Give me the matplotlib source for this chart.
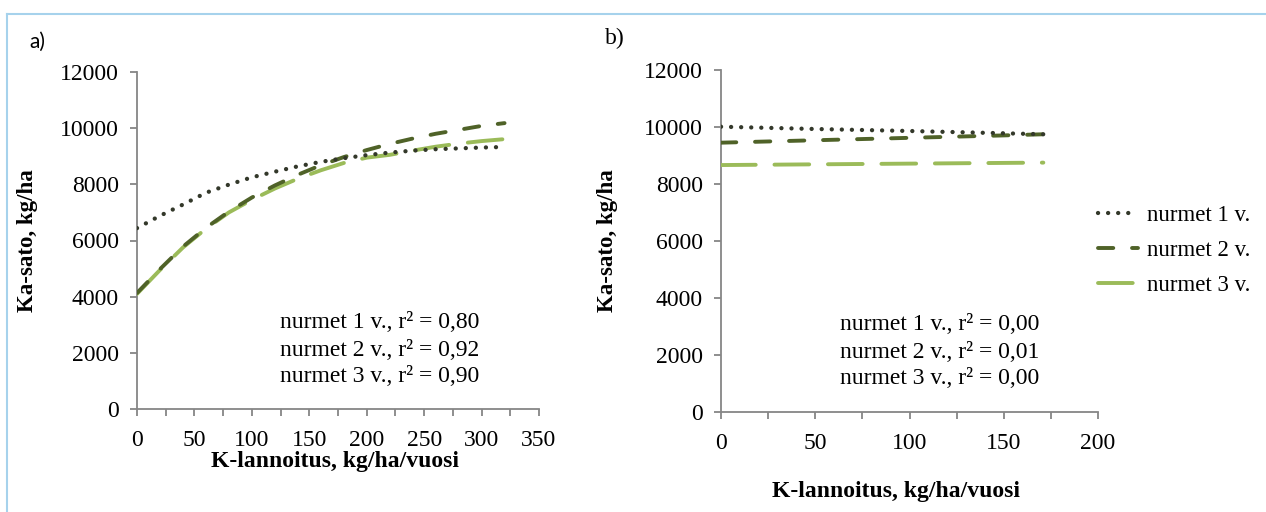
import matplotlib
matplotlib.use("Agg")
import matplotlib.pyplot as plt
from matplotlib.lines import Line2D

# Ka-sato vs K-lannoitus, trend lines read per year of ley
x_a = [0, 20, 40, 60, 80, 100, 120, 140, 160, 180, 200, 220, 240, 260, 280, 300, 320]
a_nurmet1 = [6440, 6880, 7280, 7700, 7990, 8250, 8450, 8640, 8800, 8930, 9040, 9130, 9200, 9250, 9280, 9310, 9330]
a_nurmet2 = [4130, 4980, 5780, 6450, 7030, 7530, 7960, 8340, 8680, 8970, 9220, 9440, 9630, 9800, 9940, 10080, 10180]
a_nurmet3 = [4100, 4950, 5750, 6420, 7000, 7450, 7850, 8200, 8500, 8760, 8950, 9050, 9200, 9340, 9450, 9540, 9610]

x_b = [0, 50, 100, 150, 171]
b_nurmet1 = [10010, 9930, 9860, 9780, 9745]
b_nurmet2 = [9450, 9535, 9620, 9705, 9745]
b_nurmet3 = [8665, 8690, 8715, 8740, 8750]

labels = ["nurmet 1 v.", "nurmet 2 v.", "nurmet 3 v."]
r2_a = ["0,80", "0,92", "0,90"]
r2_b = ["0,00", "0,01", "0,00"]

c_dot = "#33382a"
c_dark = "#4f6228"
c_light = "#9bbb59"
axis_gray = "#868686"

plt.rcParams["font.family"] = ["Liberation Serif", "DejaVu Serif"]
plt.rcParams["lines.scale_dashes"] = False

fig = plt.figure(figsize=(12.66, 5.12), dpi=100)
W, H = 1266.0, 512.0

def px(x, y):
    return x / W, 1 - y / H

ax_a = fig.add_axes([137 / W, 1 - 409 / H, (539 - 137) / W, (409 - 72) / H])
ax_b = fig.add_axes([721 / W, 1 - 412 / H, (1098 - 721) / W, (412 - 70) / H])

lw = 2.8
styles = [
    dict(color=c_dot, lw=3.1, dashes=(0.05, 7.2), dash_capstyle="round"),
    dict(color=c_dark, lw=lw, dashes=(11.0, 13.5), dash_capstyle="round"),
    dict(color=c_light, lw=lw, dashes=(25.0, 13.5), dash_capstyle="round"),
]

def draw(ax, x, series, xmax):
    lines = []
    for ys, st, z in zip(series, styles, [5, 4, 3]):
        ln, = ax.plot(x, ys, zorder=z, **st)
        lines.append(ln)
    ax.set_xlim(0, xmax)
    ax.set_ylim(0, 12000)
    ax.set_xticks(range(0, xmax + 1, 25))
    ax.set_xticklabels([str(v) if v % 50 == 0 else "" for v in range(0, xmax + 1, 25)])
    ax.set_yticks(range(0, 12001, 2000))
    for s in ["top", "right"]:
        ax.spines[s].set_visible(False)
    for s in ["left", "bottom"]:
        ax.spines[s].set_color(axis_gray)
        ax.spines[s].set_linewidth(1.3)
    ax.tick_params(axis="both", colors=axis_gray, length=5, width=1.3, labelsize=17,
                   labelcolor="black")
    ax.tick_params(axis="x", pad=10)
    ax.tick_params(axis="y", pad=8)
    return lines

draw(ax_a, x_a, [a_nurmet1, a_nurmet2, a_nurmet3], 350)
lines = draw(ax_b, x_b, [b_nurmet1, b_nurmet2, b_nurmet3], 200)

# r2 notes
for (cx, ys), vals in zip([(380, [322, 350, 377]), (940, [325, 352, 378])], [r2_a, r2_b]):
    for yy, lab, v in zip(ys, labels, vals):
        fig.text(*px(cx, yy), f"{lab}, r² = {v}", ha="center", va="center", fontsize=17)

# axis titles
for x0 in [28, 607]:
    fig.text(*px(x0, 241), "Ka-sato, kg/ha", rotation=90, ha="center", va="center",
             fontsize=16.5, fontweight="bold")
fig.text(*px(335, 462), "K-lannoitus, kg/ha/vuosi", ha="center", va="center",
         fontsize=17, fontweight="bold")
fig.text(*px(896, 491), "K-lannoitus, kg/ha/vuosi", ha="center", va="center",
         fontsize=17, fontweight="bold")

# panel letters
fig.text(*px(37, 42), "a)", ha="center", va="center", fontsize=15, family="Lato")
fig.text(*px(615, 38), "b)", ha="center", va="center", fontsize=17)

fig.legend(lines, labels, loc="upper left", bbox_to_anchor=px(1098, 205),
           frameon=False, fontsize=16.5, handlelength=1.75, handletextpad=0.4,
           labelspacing=0.6, borderpad=0, borderaxespad=0)

# frame edges
border = "#a6d2ec"
fig.add_artist(Line2D([7 / W, 1], [1 - 14 / H, 1 - 14 / H], color=border, lw=1.5))
fig.add_artist(Line2D([7 / W, 7 / W], [0, 1 - 14 / H], color=border, lw=1.5))

fig.savefig("out.png", dpi=100)
